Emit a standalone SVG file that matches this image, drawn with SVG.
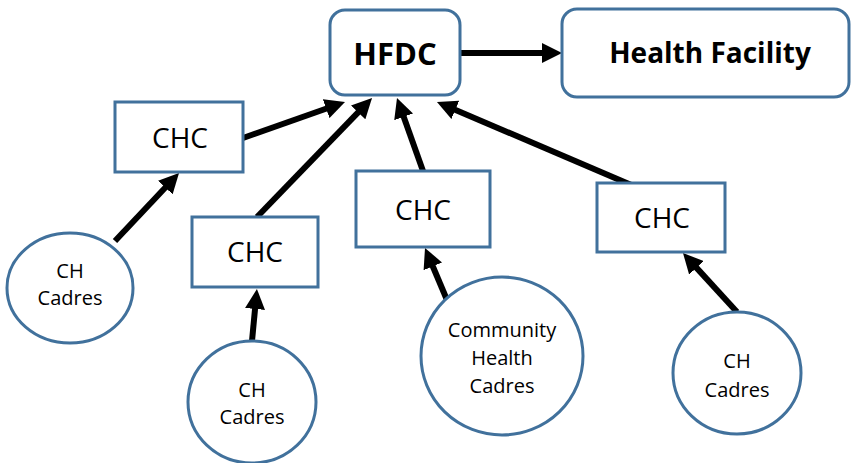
<svg xmlns="http://www.w3.org/2000/svg" width="853" height="463" viewBox="0 0 853 463">
<style>
.box{fill:#fff;stroke:#41719C;stroke-width:3}
.t{font-family:"Open Sans","Liberation Sans",sans-serif;fill:#000;text-anchor:middle}
.b{font-weight:bold}
.chc{font-size:28px}
.cad{font-size:20px}
.arr{stroke:#000;stroke-width:6;fill:none;marker-end:url(#ah)}
</style>
<defs>
<marker id="ah" markerUnits="userSpaceOnUse" markerWidth="20" markerHeight="20" viewBox="0 0 20 20" refX="8" refY="10" orient="auto">
<path d="M0,0 L20,10 L0,20 z" fill="#000"/>
</marker>
</defs>
<rect width="853" height="463" fill="#fff"/>
<g id="connectors">
<line class="arr" x1="460" y1="53" x2="550" y2="53"/>
<line class="arr" x1="243" y1="138" x2="333.7" y2="106"/>
<line class="arr" x1="257" y1="217" x2="363.7" y2="106.6"/>
<line class="arr" x1="423" y1="171" x2="401" y2="109.3"/>
<line class="arr" x1="636" y1="187" x2="448" y2="106.7"/>
<line class="arr" x1="115" y1="241" x2="170.8" y2="181.7"/>
<line class="arr" x1="252" y1="341" x2="255.8" y2="301"/>
<line class="arr" x1="447" y1="300" x2="429.7" y2="259"/>
<line class="arr" x1="737" y1="312" x2="691.1" y2="261.9"/>
</g>
<g id="hfdc">
<rect class="box" x="330" y="10" width="130" height="85" rx="15"/>
<text class="t b" x="395" y="65" font-size="31">HFDC</text>
</g>
<g id="health-facility">
<rect class="box" x="562" y="9" width="287" height="88" rx="15"/>
<text class="t b" x="710" y="63" font-size="28">Health Facility</text>
</g>
<g id="chc1">
<rect class="box" x="115" y="102" width="128" height="70"/>
<text class="t chc" x="180" y="148">CHC</text>
</g>
<g id="chc2">
<rect class="box" x="192" y="217" width="126" height="70"/>
<text class="t chc" x="255" y="262">CHC</text>
</g>
<g id="chc3">
<rect class="box" x="356" y="171" width="134" height="76"/>
<text class="t chc" x="423" y="220">CHC</text>
</g>
<g id="chc4">
<rect class="box" x="597" y="183" width="128" height="69"/>
<text class="t chc" x="662" y="228">CHC</text>
</g>
<g id="cadres1">
<ellipse class="box" cx="70" cy="288" rx="63" ry="55"/>
<text class="t cad" x="70" y="278">CH</text>
<text class="t cad" x="70" y="305">Cadres</text>
</g>
<g id="cadres2">
<ellipse class="box" cx="252" cy="402" rx="64" ry="61"/>
<text class="t cad" x="252" y="397">CH</text>
<text class="t cad" x="252" y="424">Cadres</text>
</g>
<g id="cadres3">
<ellipse class="box" cx="502" cy="356" rx="81" ry="79"/>
<text class="t cad" x="502" y="337">Community</text>
<text class="t cad" x="502" y="365">Health</text>
<text class="t cad" x="502" y="393">Cadres</text>
</g>
<g id="cadres4">
<ellipse class="box" cx="737" cy="373" rx="64" ry="61"/>
<text class="t cad" x="737" y="368">CH</text>
<text class="t cad" x="737" y="397">Cadres</text>
</g>
</svg>
